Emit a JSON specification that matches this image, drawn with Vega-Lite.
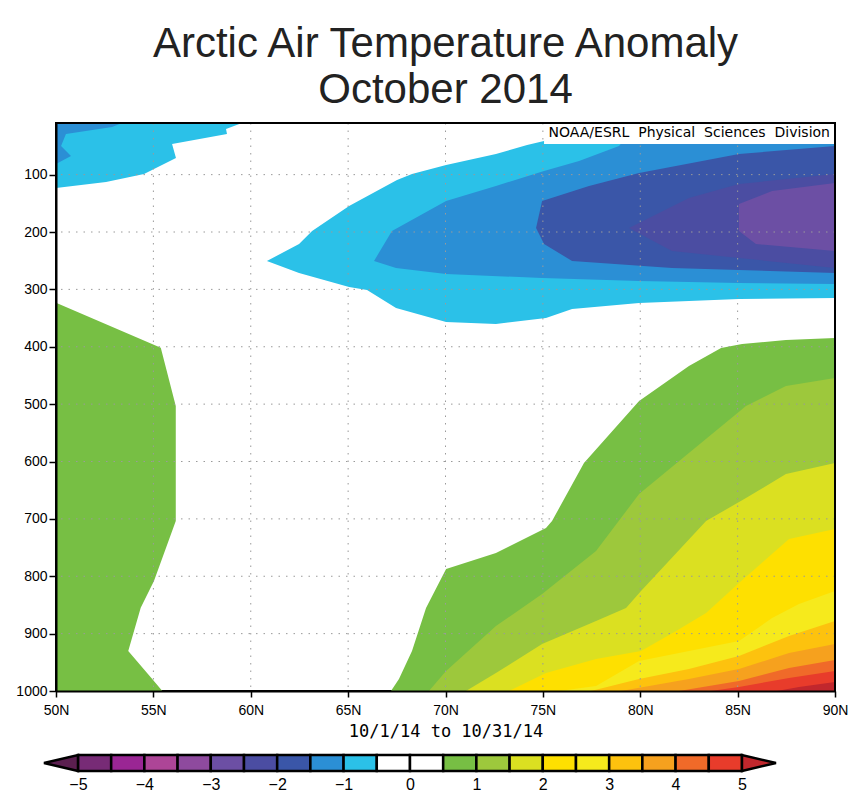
{
  "$schema": "https://vega.github.io/schema/vega-lite/v6.json",
  "title": {"text": ["Arctic Air Temperature Anomaly", "October 2014"], "font": "Liberation Sans", "fontSize": 42, "fontWeight": "normal", "color": "#222222", "lineHeight": 46, "anchor": "middle", "frame": "group", "offset": 9},
  "bounds": "flush",
  "spacing": 64,
  "padding": {"left": 14, "top": 23, "right": 5, "bottom": 5},
  "autosize": {"type": "pad"},
  "resolve": {"scale": {"x": "independent", "y": "independent", "fill": "independent"}},
  "config": {
    "view": {"stroke": "black", "strokeWidth": 2},
    "font": "Liberation Sans",
    "axis": {"labelFont": "Liberation Sans", "labelColor": "black"}
  },
  "datasets": {
    "contours": [
      {"poly": "tl_c", "level": -0.5, "i": 0, "lat": 50, "p": 10},
      {"poly": "tl_c", "level": -0.5, "i": 1, "lat": 59.55, "p": 10},
      {"poly": "tl_c", "level": -0.5, "i": 2, "lat": 58.73, "p": 20.5},
      {"poly": "tl_c", "level": -0.5, "i": 3, "lat": 58.78, "p": 29.2},
      {"poly": "tl_c", "level": -0.5, "i": 4, "lat": 55.96, "p": 46.6},
      {"poly": "tl_c", "level": -0.5, "i": 5, "lat": 56.16, "p": 71.0},
      {"poly": "tl_c", "level": -0.5, "i": 6, "lat": 54.52, "p": 98.9},
      {"poly": "tl_c", "level": -0.5, "i": 7, "lat": 52.57, "p": 112.8},
      {"poly": "tl_c", "level": -0.5, "i": 8, "lat": 50, "p": 123.3},

      {"poly": "r_c", "level": -0.5, "i": 0, "lat": 74.19, "p": 48.3},
      {"poly": "r_c", "level": -0.5, "i": 1, "lat": 72.59, "p": 64.0},
      {"poly": "r_c", "level": -0.5, "i": 2, "lat": 70.03, "p": 83.2},
      {"poly": "r_c", "level": -0.5, "i": 3, "lat": 68.28, "p": 98.9},
      {"poly": "r_c", "level": -0.5, "i": 4, "lat": 67.51, "p": 109.3},
      {"poly": "r_c", "level": -0.5, "i": 5, "lat": 65.05, "p": 154.7},
      {"poly": "r_c", "level": -0.5, "i": 6, "lat": 63.15, "p": 198.2},
      {"poly": "r_c", "level": -0.5, "i": 7, "lat": 62.48, "p": 220.9},
      {"poly": "r_c", "level": -0.5, "i": 8, "lat": 60.83, "p": 250.5},
      {"poly": "r_c", "level": -0.5, "i": 9, "lat": 62.48, "p": 271.4},
      {"poly": "r_c", "level": -0.5, "i": 10, "lat": 65.05, "p": 295.8},
      {"poly": "r_c", "level": -0.5, "i": 11, "lat": 65.97, "p": 301.1},
      {"poly": "r_c", "level": -0.5, "i": 12, "lat": 67.46, "p": 332.5},
      {"poly": "r_c", "level": -0.5, "i": 13, "lat": 70.03, "p": 356.9},
      {"poly": "r_c", "level": -0.5, "i": 14, "lat": 72.59, "p": 360.3},
      {"poly": "r_c", "level": -0.5, "i": 15, "lat": 75.16, "p": 349.9},
      {"poly": "r_c", "level": -0.5, "i": 16, "lat": 76.50, "p": 334.2},
      {"poly": "r_c", "level": -0.5, "i": 17, "lat": 79.94, "p": 323.7},
      {"poly": "r_c", "level": -0.5, "i": 18, "lat": 85.07, "p": 316.8},
      {"poly": "r_c", "level": -0.5, "i": 19, "lat": 90, "p": 315.0},
      {"poly": "r_c", "level": -0.5, "i": 20, "lat": 90, "p": 10},
      {"poly": "r_c", "level": -0.5, "i": 21, "lat": 75.83, "p": 10},
      {"poly": "r_c", "level": -0.5, "i": 22, "lat": 75.06, "p": 41.4},

      {"poly": "tl_m", "level": -1, "i": 0, "lat": 50, "p": 10},
      {"poly": "tl_m", "level": -1, "i": 1, "lat": 53.39, "p": 10},
      {"poly": "tl_m", "level": -1, "i": 2, "lat": 52.88, "p": 17.0},
      {"poly": "tl_m", "level": -1, "i": 3, "lat": 50.51, "p": 29.2},
      {"poly": "tl_m", "level": -1, "i": 4, "lat": 50.26, "p": 50.1},
      {"poly": "tl_m", "level": -1, "i": 5, "lat": 50.77, "p": 67.5},
      {"poly": "tl_m", "level": -1, "i": 6, "lat": 50, "p": 81.5},

      {"poly": "r_m", "level": -1, "i": 0, "lat": 79.94, "p": 10},
      {"poly": "r_m", "level": -1, "i": 1, "lat": 78.91, "p": 50.1},
      {"poly": "r_m", "level": -1, "i": 2, "lat": 76.86, "p": 76.2},
      {"poly": "r_m", "level": -1, "i": 3, "lat": 75.06, "p": 93.7},
      {"poly": "r_m", "level": -1, "i": 4, "lat": 72.59, "p": 119.8},
      {"poly": "r_m", "level": -1, "i": 5, "lat": 70.03, "p": 146.0},
      {"poly": "r_m", "level": -1, "i": 6, "lat": 67.25, "p": 198.2},
      {"poly": "r_m", "level": -1, "i": 7, "lat": 66.33, "p": 250.5},
      {"poly": "r_m", "level": -1, "i": 8, "lat": 67.46, "p": 262.7},
      {"poly": "r_m", "level": -1, "i": 9, "lat": 70.03, "p": 273.2},
      {"poly": "r_m", "level": -1, "i": 10, "lat": 74.96, "p": 280.2},
      {"poly": "r_m", "level": -1, "i": 11, "lat": 79.94, "p": 285.4},
      {"poly": "r_m", "level": -1, "i": 12, "lat": 85.07, "p": 288.9},
      {"poly": "r_m", "level": -1, "i": 13, "lat": 90, "p": 290.6},
      {"poly": "r_m", "level": -1, "i": 14, "lat": 90, "p": 10},

      {"poly": "r_b", "level": -1.5, "i": 0, "lat": 90, "p": 50.1},
      {"poly": "r_b", "level": -1.5, "i": 1, "lat": 85.07, "p": 64.0},
      {"poly": "r_b", "level": -1.5, "i": 2, "lat": 79.94, "p": 97.1},
      {"poly": "r_b", "level": -1.5, "i": 3, "lat": 77.37, "p": 119.8},
      {"poly": "r_b", "level": -1.5, "i": 4, "lat": 74.96, "p": 146.0},
      {"poly": "r_b", "level": -1.5, "i": 5, "lat": 74.65, "p": 193.0},
      {"poly": "r_b", "level": -1.5, "i": 6, "lat": 75.06, "p": 220.9},
      {"poly": "r_b", "level": -1.5, "i": 7, "lat": 76.50, "p": 250.5},
      {"poly": "r_b", "level": -1.5, "i": 8, "lat": 81.63, "p": 262.7},
      {"poly": "r_b", "level": -1.5, "i": 9, "lat": 90, "p": 271.4},

      {"poly": "r_i", "level": -2, "i": 0, "lat": 90, "p": 98.9},
      {"poly": "r_i", "level": -2, "i": 1, "lat": 85.07, "p": 116.3},
      {"poly": "r_i", "level": -2, "i": 2, "lat": 82.50, "p": 140.7},
      {"poly": "r_i", "level": -2, "i": 3, "lat": 79.42, "p": 193.0},
      {"poly": "r_i", "level": -2, "i": 4, "lat": 81.63, "p": 233.1},
      {"poly": "r_i", "level": -2, "i": 5, "lat": 85.07, "p": 245.3},
      {"poly": "r_i", "level": -2, "i": 6, "lat": 90, "p": 262.7},

      {"poly": "r_v", "level": -2.5, "i": 0, "lat": 90, "p": 114.6},
      {"poly": "r_v", "level": -2.5, "i": 1, "lat": 86.77, "p": 128.5},
      {"poly": "r_v", "level": -2.5, "i": 2, "lat": 85.07, "p": 151.2},
      {"poly": "r_v", "level": -2.5, "i": 3, "lat": 85.07, "p": 198.2},
      {"poly": "r_v", "level": -2.5, "i": 4, "lat": 85.94, "p": 220.9},
      {"poly": "r_v", "level": -2.5, "i": 5, "lat": 90, "p": 233.1},

      {"poly": "l_g", "level": 0.5, "i": 0, "lat": 50, "p": 323.2},
      {"poly": "l_g", "level": 0.5, "i": 1, "lat": 55.38, "p": 401.6},
      {"poly": "l_g", "level": 0.5, "i": 2, "lat": 56.15, "p": 503.3},
      {"poly": "l_g", "level": 0.5, "i": 3, "lat": 56.15, "p": 703.7},
      {"poly": "l_g", "level": 0.5, "i": 4, "lat": 55.03, "p": 808.3},
      {"poly": "l_g", "level": 0.5, "i": 5, "lat": 54.35, "p": 854.8},
      {"poly": "l_g", "level": 0.5, "i": 6, "lat": 53.71, "p": 930.3},
      {"poly": "l_g", "level": 0.5, "i": 7, "lat": 54.94, "p": 979.1},
      {"poly": "l_g", "level": 0.5, "i": 8, "lat": 55.46, "p": 1000},
      {"poly": "l_g", "level": 0.5, "i": 9, "lat": 50, "p": 1000},

      {"poly": "g05", "level": 0.5, "i": 0, "lat": 67.20, "p": 1000},
      {"poly": "g05", "level": 0.5, "i": 1, "lat": 67.61, "p": 979.1},
      {"poly": "g05", "level": 0.5, "i": 2, "lat": 68.28, "p": 930.3},
      {"poly": "g05", "level": 0.5, "i": 3, "lat": 69.00, "p": 855.3},
      {"poly": "g05", "level": 0.5, "i": 4, "lat": 70.03, "p": 787.4},
      {"poly": "g05", "level": 0.5, "i": 5, "lat": 72.59, "p": 759.5},
      {"poly": "g05", "level": 0.5, "i": 6, "lat": 75.16, "p": 715.9},
      {"poly": "g05", "level": 0.5, "i": 7, "lat": 75.47, "p": 703.7},
      {"poly": "g05", "level": 0.5, "i": 8, "lat": 77.11, "p": 602.6},
      {"poly": "g05", "level": 0.5, "i": 9, "lat": 79.94, "p": 494.5},
      {"poly": "g05", "level": 0.5, "i": 10, "lat": 82.50, "p": 433.5},
      {"poly": "g05", "level": 0.5, "i": 11, "lat": 84.15, "p": 402.2},
      {"poly": "g05", "level": 0.5, "i": 12, "lat": 85.23, "p": 395.2},
      {"poly": "g05", "level": 0.5, "i": 13, "lat": 87.48, "p": 388.2},
      {"poly": "g05", "level": 0.5, "i": 14, "lat": 90, "p": 384.7},
      {"poly": "g05", "level": 0.5, "i": 15, "lat": 90, "p": 1000},

      {"poly": "g1", "level": 1, "i": 0, "lat": 69.15, "p": 1000},
      {"poly": "g1", "level": 1, "i": 1, "lat": 70.03, "p": 965.1},
      {"poly": "g1", "level": 1, "i": 2, "lat": 72.59, "p": 886.7},
      {"poly": "g1", "level": 1, "i": 3, "lat": 74.96, "p": 831.0},
      {"poly": "g1", "level": 1, "i": 4, "lat": 77.73, "p": 756.0},
      {"poly": "g1", "level": 1, "i": 5, "lat": 79.94, "p": 656.6},
      {"poly": "g1", "level": 1, "i": 6, "lat": 85.43, "p": 503.3},
      {"poly": "g1", "level": 1, "i": 7, "lat": 87.48, "p": 468.4},
      {"poly": "g1", "level": 1, "i": 8, "lat": 90, "p": 454.4},
      {"poly": "g1", "level": 1, "i": 9, "lat": 90, "p": 1000},

      {"poly": "g15", "level": 1.5, "i": 0, "lat": 71.05, "p": 1000},
      {"poly": "g15", "level": 1.5, "i": 1, "lat": 72.59, "p": 968.6},
      {"poly": "g15", "level": 1.5, "i": 2, "lat": 74.96, "p": 918.1},
      {"poly": "g15", "level": 1.5, "i": 3, "lat": 77.73, "p": 878.0},
      {"poly": "g15", "level": 1.5, "i": 4, "lat": 79.27, "p": 855.3},
      {"poly": "g15", "level": 1.5, "i": 5, "lat": 80.04, "p": 825.8},
      {"poly": "g15", "level": 1.5, "i": 6, "lat": 83.38, "p": 703.7},
      {"poly": "g15", "level": 1.5, "i": 7, "lat": 85.43, "p": 663.6},
      {"poly": "g15", "level": 1.5, "i": 8, "lat": 87.48, "p": 621.8},
      {"poly": "g15", "level": 1.5, "i": 9, "lat": 90, "p": 602.6},
      {"poly": "g15", "level": 1.5, "i": 10, "lat": 90, "p": 1000},

      {"poly": "y2", "level": 2, "i": 0, "lat": 73.26, "p": 1000},
      {"poly": "y2", "level": 2, "i": 1, "lat": 75.16, "p": 968.6},
      {"poly": "y2", "level": 2, "i": 2, "lat": 77.73, "p": 944.2},
      {"poly": "y2", "level": 2, "i": 3, "lat": 80.04, "p": 930.3},
      {"poly": "y2", "level": 2, "i": 4, "lat": 81.84, "p": 895.4},
      {"poly": "y2", "level": 2, "i": 5, "lat": 83.38, "p": 864.0},
      {"poly": "y2", "level": 2, "i": 6, "lat": 85.07, "p": 811.8},
      {"poly": "y2", "level": 2, "i": 7, "lat": 87.64, "p": 735.1},
      {"poly": "y2", "level": 2, "i": 8, "lat": 90, "p": 717.6},
      {"poly": "y2", "level": 2, "i": 9, "lat": 90, "p": 1000},

      {"poly": "y25", "level": 2.5, "i": 0, "lat": 75.83, "p": 1000},
      {"poly": "y25", "level": 2.5, "i": 1, "lat": 77.73, "p": 991.2},
      {"poly": "y25", "level": 2.5, "i": 2, "lat": 79.94, "p": 947.8},
      {"poly": "y25", "level": 2.5, "i": 3, "lat": 82.50, "p": 930.3},
      {"poly": "y25", "level": 2.5, "i": 4, "lat": 85.07, "p": 912.9},
      {"poly": "y25", "level": 2.5, "i": 5, "lat": 86.77, "p": 872.8},
      {"poly": "y25", "level": 2.5, "i": 6, "lat": 88.15, "p": 848.4},
      {"poly": "y25", "level": 2.5, "i": 7, "lat": 90, "p": 825.8},
      {"poly": "y25", "level": 2.5, "i": 8, "lat": 90, "p": 1000},

      {"poly": "o3", "level": 3, "i": 0, "lat": 77.47, "p": 1000},
      {"poly": "o3", "level": 3, "i": 1, "lat": 79.94, "p": 979.1},
      {"poly": "o3", "level": 3, "i": 2, "lat": 82.50, "p": 961.7},
      {"poly": "o3", "level": 3, "i": 3, "lat": 85.07, "p": 939.0},
      {"poly": "o3", "level": 3, "i": 4, "lat": 87.64, "p": 904.1},
      {"poly": "o3", "level": 3, "i": 5, "lat": 90, "p": 878.0},
      {"poly": "o3", "level": 3, "i": 6, "lat": 90, "p": 1000},

      {"poly": "o35", "level": 3.5, "i": 0, "lat": 79.01, "p": 1000},
      {"poly": "o35", "level": 3.5, "i": 1, "lat": 82.50, "p": 979.1},
      {"poly": "o35", "level": 3.5, "i": 2, "lat": 85.07, "p": 961.7},
      {"poly": "o35", "level": 3.5, "i": 3, "lat": 87.64, "p": 933.8},
      {"poly": "o35", "level": 3.5, "i": 4, "lat": 90, "p": 918.1},
      {"poly": "o35", "level": 3.5, "i": 5, "lat": 90, "p": 1000},

      {"poly": "o4", "level": 4, "i": 0, "lat": 81.99, "p": 1000},
      {"poly": "o4", "level": 4, "i": 1, "lat": 85.07, "p": 982.5},
      {"poly": "o4", "level": 4, "i": 2, "lat": 87.64, "p": 959.9},
      {"poly": "o4", "level": 4, "i": 3, "lat": 90, "p": 946.0},
      {"poly": "o4", "level": 4, "i": 4, "lat": 90, "p": 1000},

      {"poly": "r45", "level": 4.5, "i": 0, "lat": 83.63, "p": 1000},
      {"poly": "r45", "level": 4.5, "i": 1, "lat": 85.07, "p": 993.0},
      {"poly": "r45", "level": 4.5, "i": 2, "lat": 87.64, "p": 977.3},
      {"poly": "r45", "level": 4.5, "i": 3, "lat": 90, "p": 965.1},
      {"poly": "r45", "level": 4.5, "i": 4, "lat": 90, "p": 1000},

      {"poly": "r5", "level": 5, "i": 0, "lat": 87.02, "p": 1000},
      {"poly": "r5", "level": 5, "i": 1, "lat": 88.15, "p": 993.0},
      {"poly": "r5", "level": 5, "i": 2, "lat": 90, "p": 984.3},
      {"poly": "r5", "level": 5, "i": 3, "lat": 90, "p": 1000}
    ],
    "bins": [
      {"lo": -5, "hi": -4.5}, {"lo": -4.5, "hi": -4}, {"lo": -4, "hi": -3.5}, {"lo": -3.5, "hi": -3},
      {"lo": -3, "hi": -2.5}, {"lo": -2.5, "hi": -2}, {"lo": -2, "hi": -1.5}, {"lo": -1.5, "hi": -1},
      {"lo": -1, "hi": -0.5}, {"lo": -0.5, "hi": 0}, {"lo": 0, "hi": 0.5}, {"lo": 0.5, "hi": 1},
      {"lo": 1, "hi": 1.5}, {"lo": 1.5, "hi": 2}, {"lo": 2, "hi": 2.5}, {"lo": 2.5, "hi": 3},
      {"lo": 3, "hi": 3.5}, {"lo": 3.5, "hi": 4}, {"lo": 4, "hi": 4.5}, {"lo": 4.5, "hi": 5}
    ],
    "tri": [
      {"end": "below", "i": 0, "v": -5, "h": 0},
      {"end": "below", "i": 1, "v": -5.512, "h": 0.5},
      {"end": "below", "i": 2, "v": -5, "h": 1},
      {"end": "above", "i": 0, "v": 5, "h": 0},
      {"end": "above", "i": 1, "v": 5.512, "h": 0.5},
      {"end": "above", "i": 2, "v": 5, "h": 1}
    ],
    "latgrid": [{"lat": 55}, {"lat": 60}, {"lat": 65}, {"lat": 70}, {"lat": 75}, {"lat": 80}, {"lat": 85}],
    "pgrid": [{"p": 100}, {"p": 200}, {"p": 300}, {"p": 400}, {"p": 500}, {"p": 600}, {"p": 700}, {"p": 800}, {"p": 900}]
  },
  "vconcat": [
    {
      "width": 779,
      "height": 568,
      "layer": [
        {
          "data": {"name": "contours"},
          "mark": {"type": "line", "interpolate": "linear-closed", "strokeWidth": 0, "strokeOpacity": 0},
          "encoding": {
            "x": {"field": "lat", "type": "quantitative",
              "scale": {"domain": [50, 90], "nice": false, "zero": false},
              "axis": {"values": [50, 55, 60, 65, 70, 75, 80, 85, 90], "labelExpr": "datum.value + 'N'", "grid": false, "zindex": 1,
                "domainColor": "black", "domainWidth": 2, "tickColor": "black", "tickSize": 6, "tickWidth": 1.5,
                "labelFontSize": 14, "labelPadding": 6, "labelFlush": false, "labelOverlap": false,
                "title": "10/1/14  to 10/31/14", "titleFont": "DejaVu Sans Mono", "titleFontSize": 17, "titleFontWeight": "normal", "titleColor": "black", "titlePadding": 6}},
            "y": {"field": "p", "type": "quantitative",
              "scale": {"domain": [10, 1000], "reverse": true, "nice": false, "zero": false},
              "axis": {"values": [100, 200, 300, 400, 500, 600, 700, 800, 900, 1000], "format": "d", "grid": false, "zindex": 1,
                "domainColor": "black", "domainWidth": 2, "tickColor": "black", "tickSize": 7, "tickWidth": 1.5,
                "labelFontSize": 14, "labelPadding": 2, "labelFlush": false, "labelOverlap": false, "title": null}},
            "detail": {"field": "poly"},
            "order": {"field": "i", "type": "quantitative"},
            "fill": {"field": "level", "type": "ordinal", "legend": null,
              "scale": {"domain": [-2.5, -2, -1.5, -1, -0.5, 0.5, 1, 1.5, 2, 2.5, 3, 3.5, 4, 4.5, 5],
                "range": ["#6c4fa4", "#4b4da2", "#3a56a8", "#2b8fd5", "#2bc1e8", "#77bf44", "#9dc83c", "#dbe021", "#fee000", "#f6ea1c", "#fdc20e", "#f6a11e", "#f06a29", "#e83c2b", "#c1272d"]}}
          }
        },
        {
          "data": {"name": "latgrid"},
          "mark": {"type": "rule", "color": "#9a9a9a", "strokeWidth": 1, "strokeDash": [1.5, 6]},
          "encoding": {"x": {"field": "lat", "type": "quantitative"}}
        },
        {
          "data": {"name": "pgrid"},
          "mark": {"type": "rule", "color": "#9a9a9a", "strokeWidth": 1, "strokeDash": [1.5, 6]},
          "encoding": {"y": {"field": "p", "type": "quantitative"}}
        },
        {
          "data": {"values": [{}]},
          "mark": {"type": "rect", "fill": "white"},
          "encoding": {"x": {"datum": 75.06, "type": "quantitative"}, "x2": {"datum": 90}, "y": {"datum": 10, "type": "quantitative"}, "y2": {"datum": 46.6}}
        },
        {
          "data": {"values": [{}]},
          "mark": {"type": "text", "text": "NOAA/ESRL\u00a0 Physical\u00a0 Sciences\u00a0 Division", "align": "right", "baseline": "middle", "font": "DejaVu Sans", "fontSize": 14, "color": "black", "dx": -5},
          "encoding": {"x": {"datum": 90, "type": "quantitative"}, "y": {"datum": 27, "type": "quantitative"}}
        },
        {
          "data": {"values": [{}]},
          "mark": {"type": "rule", "color": "black", "strokeWidth": 2},
          "encoding": {"y": {"datum": 10, "type": "quantitative"}}
        },
        {
          "data": {"values": [{}]},
          "mark": {"type": "rule", "color": "black", "strokeWidth": 2},
          "encoding": {"x": {"datum": 90, "type": "quantitative"}}
        }
      ]
    },
    {
      "width": 779,
      "height": 16,
      "view": {"stroke": null},
      "resolve": {"scale": {"fill": "independent"}},
      "layer": [
        {
          "data": {"name": "bins"},
          "mark": {"type": "rect", "stroke": "black", "strokeWidth": 2.5},
          "encoding": {
            "x": {"field": "lo", "type": "quantitative", "scale": {"domain": [-5.331, 6.401], "nice": false, "zero": false},
              "axis": {"values": [-5, -4, -3, -2, -1, 0, 1, 2, 3, 4, 5], "format": "d", "ticks": false, "domain": false, "grid": false,
                "labelFontSize": 16, "labelPadding": 5, "labelFlush": false, "labelOverlap": false, "title": null}},
            "x2": {"field": "hi"},
            "y": {"datum": 0, "type": "quantitative", "scale": {"domain": [0, 1], "nice": false, "zero": false}, "axis": null},
            "y2": {"datum": 1},
            "fill": {"field": "lo", "type": "ordinal", "legend": null,
              "scale": {"domain": [-5, -4.5, -4, -3.5, -3, -2.5, -2, -1.5, -1, -0.5, 0, 0.5, 1, 1.5, 2, 2.5, 3, 3.5, 4, 4.5],
                "range": ["#772b76", "#9a2694", "#ad4597", "#8e4a9e", "#6c4fa4", "#4b4da2", "#3a56a8", "#2b8fd5", "#2bc1e8", "#ffffff", "#ffffff", "#77bf44", "#9dc83c", "#dbe021", "#fee000", "#f6ea1c", "#fdc20e", "#f6a11e", "#f06a29", "#e83c2b"]}}
          }
        },
        {
          "data": {"name": "tri"},
          "mark": {"type": "line", "interpolate": "linear-closed", "stroke": "black", "strokeWidth": 2.5},
          "encoding": {
            "x": {"field": "v", "type": "quantitative"},
            "y": {"field": "h", "type": "quantitative"},
            "detail": {"field": "end"},
            "order": {"field": "i", "type": "quantitative"},
            "fill": {"field": "end", "type": "nominal", "legend": null,
              "scale": {"domain": ["below", "above"], "range": ["#5b1f50", "#c1272d"]}}
          }
        }
      ]
    }
  ]
}
